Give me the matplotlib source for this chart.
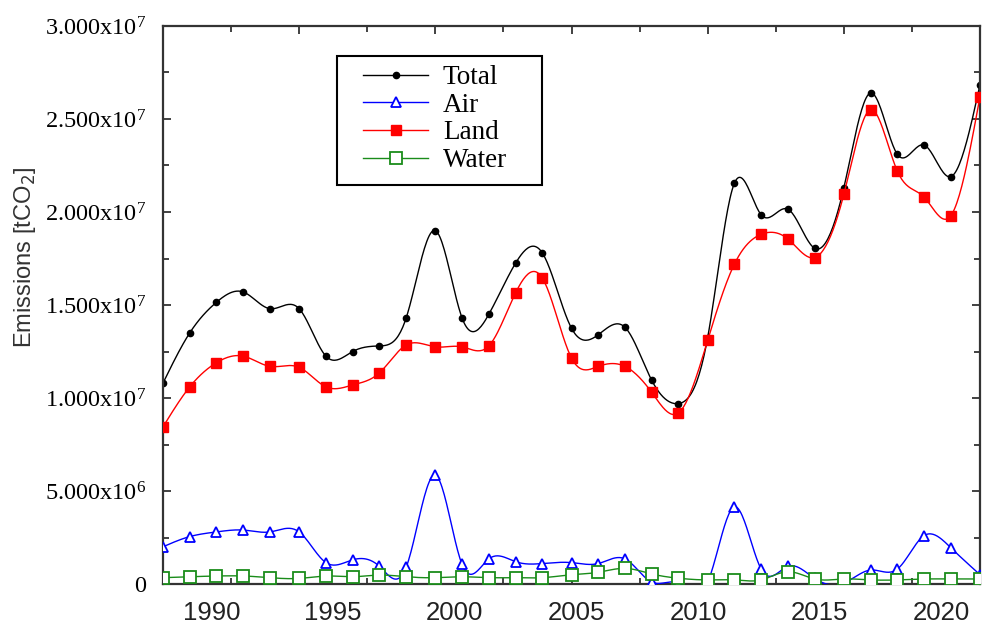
import matplotlib
matplotlib.use("Agg")
import matplotlib.pyplot as plt
from matplotlib.patches import Rectangle
import numpy as np

plt.rcParams["mathtext.fontset"] = "custom"
plt.rcParams["mathtext.rm"] = "Liberation Serif"
plt.rcParams["mathtext.it"] = "Liberation Serif:italic"

# x positions of the samples (years)
years = [1988.0, 1989.1, 1990.2, 1991.3, 1992.4, 1993.6, 1994.7, 1995.8, 1996.9, 1998.0,
         1999.2, 2000.3, 2001.4, 2002.5, 2003.6, 2004.8, 2005.9, 2007.0, 2008.1, 2009.2,
         2010.4, 2011.5, 2012.6, 2013.7, 2014.8, 2016.0, 2017.1, 2018.2, 2019.3, 2020.4,
         2021.6]

# emissions in millions of tCO2
total = [10.8, 13.5, 15.15, 15.7, 14.8, 14.8, 12.25, 12.5, 12.8, 14.3,
         19.0, 14.3, 14.5, 17.25, 17.8, 13.75, 13.4, 13.8, 10.95, 9.7,
         13.25, 21.55, 19.85, 20.15, 18.05, 21.3, 26.4, 23.1, 23.6, 21.9,
         26.85]
air = [2.0, 2.55, 2.8, 2.9, 2.8, 2.8, 1.15, 1.3, 0.95, 0.9,
       5.85, 1.05, 1.35, 1.2, 1.1, 1.15, 1.1, 1.35, 0.1, 0.05,
       0.1, 4.15, 0.8, 0.95, 0.3, 0.05, 0.75, 0.8, 2.6, 1.95,
       0.5]
land = [8.45, 10.6, 11.9, 12.25, 11.7, 11.65, 10.6, 10.7, 11.35, 12.85,
        12.75, 12.75, 12.8, 15.65, 16.45, 12.15, 11.7, 11.7, 10.3, 9.2,
        13.1, 17.2, 18.8, 18.55, 17.55, 20.95, 25.5, 22.2, 20.8, 19.8,
        26.2]
water = [0.34, 0.39, 0.43, 0.43, 0.34, 0.3, 0.43, 0.39, 0.48, 0.39,
         0.34, 0.39, 0.34, 0.34, 0.34, 0.5, 0.63, 0.84, 0.54, 0.31,
         0.22, 0.22, 0.22, 0.66, 0.27, 0.27, 0.22, 0.22, 0.27, 0.27,
         0.27]

year_labels = [1990, 1995, 2000, 2005, 2010, 2015, 2020]
y_ticks = [0, 5e6, 1e7, 1.5e7, 2e7, 2.5e7, 3e7]
y_ticklabels = ["0", r"5.000x10$^{\mathrm{6}}$", r"1.000x10$^{\mathrm{7}}$",
                r"1.500x10$^{\mathrm{7}}$", r"2.000x10$^{\mathrm{7}}$",
                r"2.500x10$^{\mathrm{7}}$", r"3.000x10$^{\mathrm{7}}$"]


def smooth(x, y, n=24):
    # natural cubic spline through the points, only used to draw the curve
    x = np.asarray(x, float)
    y = np.asarray(y, float)
    k = len(x)
    h = np.diff(x)
    A = np.zeros((k, k))
    r = np.zeros(k)
    A[0, 0] = A[-1, -1] = 1
    for i in range(1, k - 1):
        A[i, i - 1] = h[i - 1]
        A[i, i] = 2 * (h[i - 1] + h[i])
        A[i, i + 1] = h[i]
        r[i] = 3 * ((y[i + 1] - y[i]) / h[i] - (y[i] - y[i - 1]) / h[i - 1])
    c = np.linalg.solve(A, r)
    b = (y[1:] - y[:-1]) / h - h * (2 * c[:-1] + c[1:]) / 3
    d = (c[1:] - c[:-1]) / (3 * h)
    xs, ys = [], []
    for i in range(k - 1):
        t = np.linspace(0, h[i], n, endpoint=False)
        xs.append(x[i] + t)
        ys.append(y[i] + b[i] * t + c[i] * t ** 2 + d[i] * t ** 3)
    xs.append([x[-1]])
    ys.append([y[-1]])
    return np.concatenate(xs), np.concatenate(ys)


fig = plt.figure(figsize=(9.83, 6.27), dpi=100)
ax = fig.add_axes([163 / 983, 1 - 584 / 627, (980 - 163) / 983, (584 - 26) / 627])

series = [
    ("Total", total, dict(color="black", marker="o", ms=4.5, mfc="black", mec="black")),
    ("Air", air, dict(color="#0000ff", marker="^", ms=7.5, mfc="white", mec="#0000ff", mew=1.3)),
    ("Land", land, dict(color="#ff0000", marker="s", ms=7.5, mfc="#ff0000", mec="#ff0000")),
    ("Water", water, dict(color="#1a8c1a", marker="s", ms=8, mfc="white", mec="#1a8c1a", mew=1.3)),
]
handles = []
for z, (name, vals, st) in enumerate(series):
    v = np.array(vals) * 1e6
    xs, ys = smooth(years, v)
    ax.plot(xs, ys, color=st["color"], lw=1.0, zorder=2 + z)
    ax.plot(years, v, ls="none", zorder=2 + z, **{k: st[k] for k in st if k != "color"})
    h, = ax.plot([], [], color=st["color"], lw=1.0,
                 **{k: st[k] for k in st if k != "color"}, label=name)
    handles.append(h)

ax.set_xlim(years[0], years[-1])
ax.set_ylim(0, 3e7)

# tick marks: every 5 samples (major) and halfway (minor), no labels
ax.set_xticks(years[::5])
ax.set_xticks([(a + b) / 2 for a, b in zip(years[::5], years[5::5])], minor=True)
ax.set_yticks(y_ticks)
ax.set_yticks([2.5e6 + 5e6 * i for i in range(6)], minor=True)
ax.set_yticklabels(y_ticklabels, fontfamily="Liberation Serif", fontsize=17.5)
ax.tick_params(which="both", direction="in", top=True, right=True, labelbottom=False,
               width=1.3, color="#333333")
ax.tick_params(which="major", length=6, pad=12)
ax.tick_params(which="minor", length=4)

sec = ax.secondary_xaxis("bottom")
sec.set_xticks(year_labels)
sec.set_xticklabels([str(y) for y in year_labels], fontfamily="Liberation Sans", fontsize=18.5,
                    color="#222222")
sec.tick_params(length=0, pad=12)
sec.spines["bottom"].set_visible(False)

for s in ax.spines.values():
    s.set_linewidth(1.6)
    s.set_color("#333333")

ax.set_ylabel(r"Emissions [tCO$_2$]", fontfamily="Liberation Sans", fontsize=17,
              color="#333333", math_fontfamily="dejavusans")
ax.yaxis.set_label_coords(-0.153, 0.585)

# legend frame drawn separately so the inner padding can match the original
frame = Rectangle((337 / 983, 1 - 185 / 627), 205 / 983, 129 / 627, transform=fig.transFigure,
                  facecolor="white", edgecolor="black", lw=1.5, zorder=10, clip_on=False)
ax.add_patch(frame)
leg = ax.legend(handles=handles, loc="upper left", bbox_to_anchor=(363 / 983, 1 - 65 / 627),
                bbox_transform=fig.transFigure, borderaxespad=0, borderpad=0, numpoints=1,
                prop={"family": "Liberation Serif", "size": 19.5}, handlelength=2.4,
                handletextpad=0.55, labelspacing=0.1, frameon=False)
leg.set_zorder(11)

fig.savefig("out.png", dpi=100)
